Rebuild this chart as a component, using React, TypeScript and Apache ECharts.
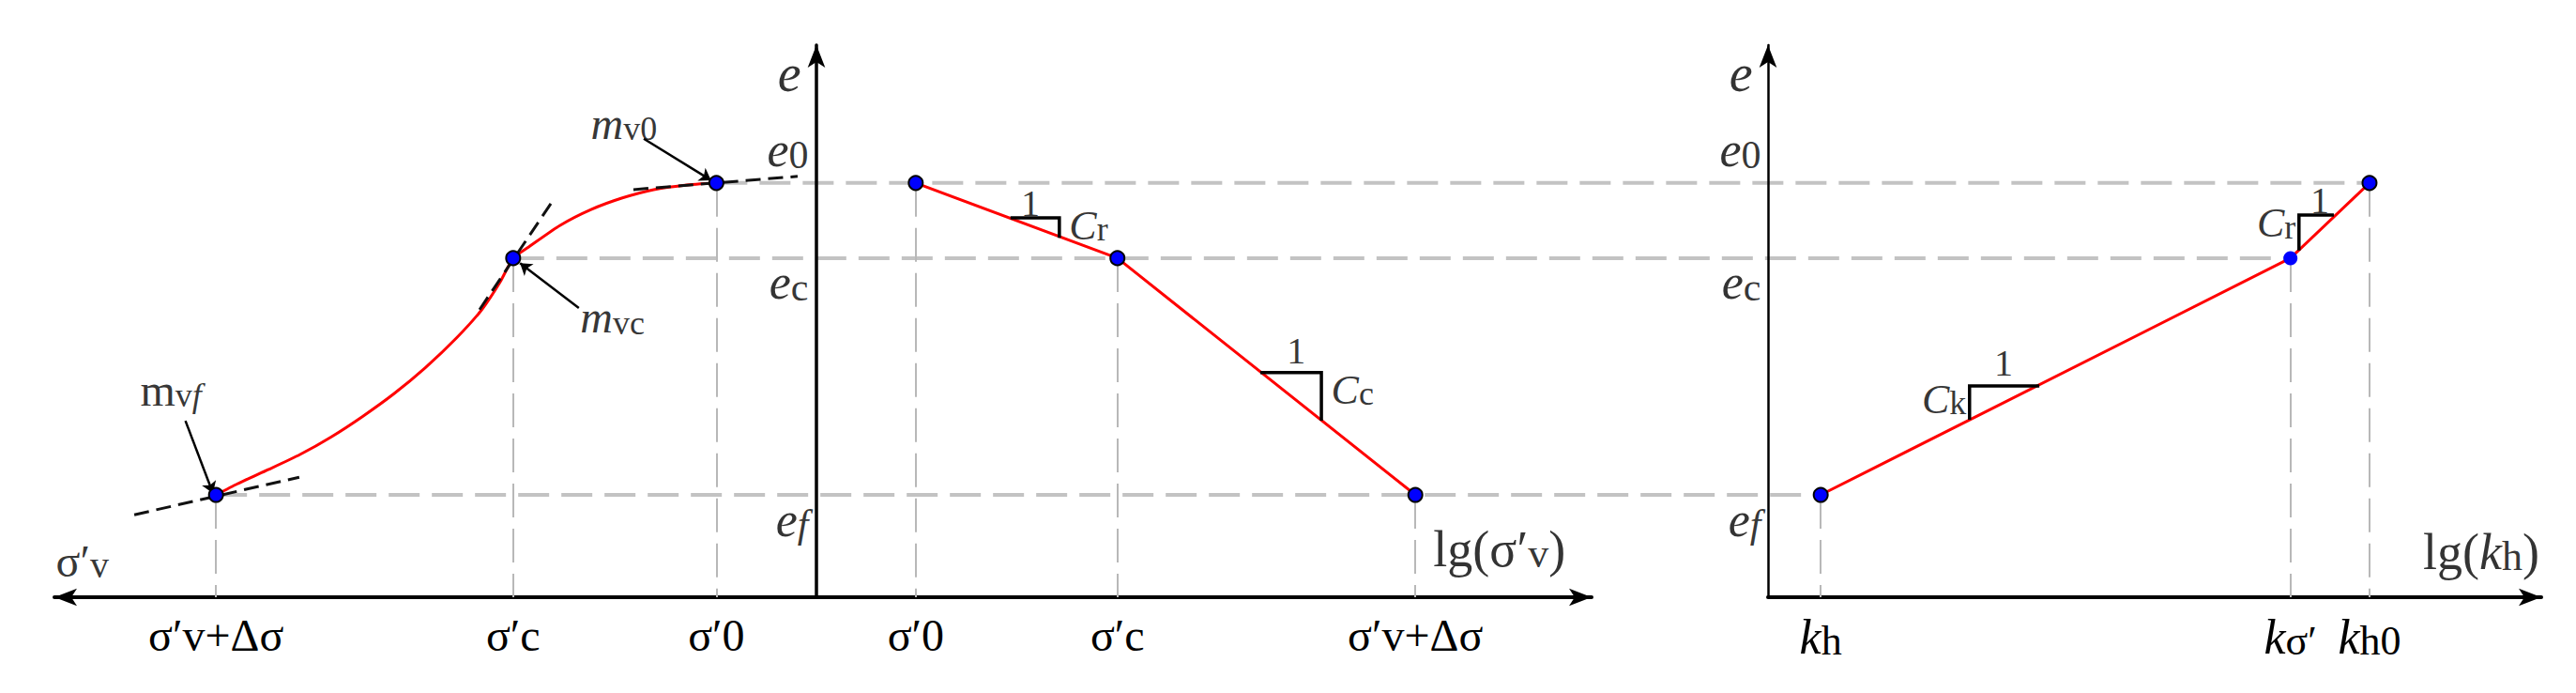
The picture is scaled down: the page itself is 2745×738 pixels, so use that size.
import React, { useEffect, useRef } from "react";
import * as echarts from "echarts";

const W = 2745;
const H = 738;

// void ratio levels: e0, ec, ef
const eLevels = [0.749, 0.613, 0.185];
const eLevelText = ["{I|e}{s|0}", "{I|e}{s|c}", "{I|e}{si|f}"];
// left panel σ'v (drawn leftwards from origin): σ'0, σ'c, σ'v+Δσ
const sigmaNat = [13.1, 39.7, 78.6];
// middle panel lg(σ'v): σ'0, σ'c, σ'v+Δσ
const sigmaLg = [13.0, 39.4, 78.4];
const sigmaTickText = ["{R|σ′0}", "{R|σ′c}", "{R|σ′v+Δσ}"];
// right panel lg(kh): kh0, kσ', kh
const khLg = [77.6, 67.4, 6.8];
const khTickText = ["{I|k}{s|h0}", "{I|k}{s|σ′}", "{I|k}{s|h}"];

// e – σ'v curve (left panel)
const curveSigma = [78.6, 75.8, 71.7, 67.6, 63.5, 59.4, 55.3, 51.2, 47.1, 43.8, 41.4, 39.7, 37.7, 33.6, 29.5, 25.4, 21.3, 17.2, 13.1];
const curveE = [0.185, 0.205, 0.231, 0.258, 0.29, 0.327, 0.368, 0.415, 0.469, 0.52, 0.57, 0.613, 0.633, 0.672, 0.701, 0.722, 0.737, 0.745, 0.749];

// tangent lines [σ1, e1, σ2, e2]
const tangentF = [89.3, 0.149, 67.7, 0.217];
const tangentC = [44.1, 0.52, 34.6, 0.715];
const tangent0 = [23.96, 0.737, 2.46, 0.761];

// pointer lines for mv labels [σ1, e1, σ2, e2]
const pointer0 = [22.6, 0.829, 13.8, 0.754];
const pointerC = [31.1, 0.523, 38.8, 0.604];
const pointerF = [82.6, 0.319, 79.0, 0.188];
const mvText = ["{I|m}{s|v0}", "{I|m}{s|vc}", "{R|m}{s|v}{si|f}"];
const mvAnchorSigma = [25.2, 26.7, 84.5];
const mvAnchorE = [0.857, 0.506, 0.375];

// slope triangles: x1, x2 (horizontal leg), eTop, eBottom
const triCrMid = [25.4, 31.8, 0.686, 0.65];
const triCcMid = [58.1, 66.1, 0.406, 0.319];
const triCkRight = [26.0, 35.0, 0.382, 0.321];
const triCrRight = [68.5, 73.0, 0.691, 0.627];

// "1" labels anchors
const oneMidX = [28.0, 62.8];
const oneMidE = [0.713, 0.445];
const oneRightX = [30.4, 71.2];
const oneRightE = [0.424, 0.718];

const serif = "'Liberation Serif', 'Times New Roman', serif";

function rich(main: number, sub: number) {
  const base = { fontFamily: serif, color: "#000", verticalAlign: "bottom" };
  return {
    I: { ...base, fontStyle: "italic", fontSize: main, lineHeight: main },
    R: { ...base, fontSize: main, lineHeight: main },
    s: { ...base, fontSize: sub, lineHeight: sub },
    si: { ...base, fontStyle: "italic", fontSize: sub, lineHeight: sub },
  };
}

function lookup(values: number[], texts: string[]) {
  return (v: number) => {
    for (let i = 0; i < values.length; i++) if (Math.abs(values[i] - v) < 1e-6) return texts[i];
    return "";
  };
}

function textItem(x: number, y: number, text: string, position: any, distance: number, offset: number[], r: any) {
  return {
    value: [x, y],
    label: { show: true, formatter: text, position, distance, offset, rich: r },
  };
}

function buildOption() {
  const black = "#000";
  const red = "#ff0000";
  const blue = "#0000ff";
  const vDash = { color: "#b8b8b8", width: 2, type: [36, 12], opacity: 1 };

  const leftTickVals = sigmaNat.map((s) => -s);
  const midTickVals = sigmaLg.slice();
  const gridATicks = [...leftTickVals, ...midTickVals];
  const gridATickText = [...sigmaTickText, ...sigmaTickText];

  const labelsA = [
    textItem(0, 0.947, "{I|e}", "left", 16, [0, 0], rich(56, 44)),
    ...eLevels.map((e, i) =>
      textItem(0, e, eLevelText[i], "left", 8, [0, i === 0 ? -35 : 26], rich(52, 42))
    ),
    textItem(-96.1, 0.066, "{R|σ′}{s|v}", "inside", 0, [0, 0], rich(48, 40)),
    textItem(89.4, 0.087, "{R|lg(σ′}{s|v}{R|)}", "inside", 0, [0, 0], rich(54, 44)),
    ...mvText.map((t, i) =>
      textItem(-mvAnchorSigma[i], mvAnchorE[i], t, "inside", 0, [0, 0], rich(48, 36))
    ),
    ...oneMidX.map((x, i) => textItem(x, oneMidE[i], "{R|1}", "inside", 0, [0, 0], rich(40, 34))),
    textItem(triCrMid[1], 0.672, "{I|C}{s|r}", "right", 10, [0, 0], rich(44, 36)),
    textItem(triCcMid[1], 0.375, "{I|C}{s|c}", "right", 10, [0, 0], rich(44, 36)),
  ];

  const labelsB = [
    textItem(0, 0.947, "{I|e}", "left", 16, [0, 0], rich(56, 44)),
    ...eLevels.map((e, i) =>
      textItem(0, e, eLevelText[i], "left", 7, [0, i === 0 ? -35 : 26], rich(52, 42))
    ),
    textItem(92.0, 0.0815, "{R|lg(}{I|k}{s|h}{R|)}", "inside", 0, [0, 0], rich(54, 44)),
    ...oneRightX.map((x, i) => textItem(x, oneRightE[i], "{R|1}", "inside", 0, [0, 0], rich(40, 34))),
    textItem(triCkRight[0], 0.358, "{I|C}{s|k}", "left", 3, [0, 0], rich(44, 36)),
    textItem(triCrRight[0], 0.676, "{I|C}{s|r}", "left", 3, [0, 0], rich(44, 36)),
  ];

  const seg = (a: number[], sign: number) => ({
    coords: [
      [sign * a[0], a[1]],
      [sign * a[2], a[3]],
    ],
  });
  const tri = (t: number[], rightCorner: boolean) => ({
    coords: rightCorner
      ? [
          [t[0], t[2]],
          [t[1], t[2]],
          [t[1], t[3]],
        ]
      : [
          [t[0], t[3]],
          [t[0], t[2]],
          [t[1], t[2]],
        ],
  });

  const axisCommon = {
    axisTick: { show: false },
    splitLine: { show: false },
  };

  return {
    animation: false,
    backgroundColor: "#ffffff",
    grid: [
      { left: 58, top: 48, width: 1638, height: 588 },
      { left: 1884, top: 48, width: 824, height: 588 },
    ],
    xAxis: [
      {
        type: "value",
        gridIndex: 0,
        min: -99.75,
        max: 101.47,
        ...axisCommon,
        axisLine: {
          show: true,
          onZero: true,
          symbol: ["arrow", "arrow"],
          symbolSize: [14, 24],
          lineStyle: { color: black, width: 4 },
        },
        axisLabel: {
          show: true,
          customValues: gridATicks,
          formatter: lookup(gridATicks, gridATickText),
          margin: 16,
          rich: rich(48, 40),
        },
      },
      {
        type: "value",
        gridIndex: 1,
        min: 0,
        max: 99.76,
        ...axisCommon,
        axisLine: {
          show: true,
          onZero: true,
          symbol: ["none", "arrow"],
          symbolSize: [14, 24],
          lineStyle: { color: black, width: 4 },
        },
        axisLabel: {
          show: true,
          customValues: khLg,
          formatter: lookup(khLg, khTickText),
          margin: 16,
          rich: rich(52, 44),
        },
      },
    ],
    yAxis: [
      {
        type: "value",
        gridIndex: 0,
        min: 0,
        max: 0.9983,
        ...axisCommon,
        axisLabel: { show: false },
        axisLine: {
          show: true,
          onZero: true,
          symbol: ["none", "arrow"],
          symbolSize: [14, 24],
          lineStyle: { color: black, width: 3.5 },
        },
      },
      {
        type: "value",
        gridIndex: 1,
        min: 0,
        max: 0.9983,
        ...axisCommon,
        axisLabel: { show: false },
        axisLine: {
          show: true,
          onZero: true,
          symbol: ["none", "arrow"],
          symbolSize: [14, 24],
          lineStyle: { color: black, width: 2.5 },
        },
      },
    ],
    series: [
      // vertical dashed guides
      {
        type: "lines",
        coordinateSystem: "cartesian2d",
        xAxisIndex: 0,
        yAxisIndex: 0,
        silent: true,
        z: 1,
        lineStyle: vDash,
        data: [
          ...sigmaNat.map((s, i) => ({ coords: [[-s, eLevels[i]], [-s, 0]] })),
          ...sigmaLg.map((s, i) => ({ coords: [[s, eLevels[i]], [s, 0]] })),
        ],
      },
      {
        type: "lines",
        coordinateSystem: "cartesian2d",
        xAxisIndex: 1,
        yAxisIndex: 1,
        silent: true,
        z: 1,
        lineStyle: vDash,
        data: khLg.map((k, i) => ({ coords: [[k, eLevels[i]], [k, 0]] })),
      },
      // left curve
      {
        type: "line",
        xAxisIndex: 0,
        yAxisIndex: 0,
        silent: true,
        z: 3,
        smooth: 0.2,
        symbol: "none",
        lineStyle: { color: red, width: 3 },
        data: curveSigma.map((s, i) => [-s, curveE[i]]),
      },
      // middle line
      {
        type: "line",
        xAxisIndex: 0,
        yAxisIndex: 0,
        silent: true,
        z: 3,
        symbol: "none",
        lineStyle: { color: red, width: 3 },
        data: sigmaLg.map((s, i) => [s, eLevels[i]]),
      },
      // right line
      {
        type: "line",
        xAxisIndex: 1,
        yAxisIndex: 1,
        silent: true,
        z: 3,
        symbol: "none",
        lineStyle: { color: red, width: 3 },
        data: khLg.map((k, i) => [k, eLevels[i]]),
      },
      // tangents
      {
        type: "lines",
        coordinateSystem: "cartesian2d",
        xAxisIndex: 0,
        yAxisIndex: 0,
        silent: true,
        z: 4,
        lineStyle: { color: "#111", width: 3, type: [16, 8], opacity: 1 },
        data: [seg(tangentF, -1), seg(tangentC, -1), seg(tangent0, -1)],
      },
      // pointers
      {
        type: "lines",
        coordinateSystem: "cartesian2d",
        xAxisIndex: 0,
        yAxisIndex: 0,
        silent: true,
        z: 4,
        symbol: ["none", "arrow"],
        symbolSize: 12,
        lineStyle: { color: black, width: 2.5, opacity: 1 },
        data: [seg(pointer0, -1), seg(pointerC, -1), seg(pointerF, -1)],
      },
      // slope triangles middle
      {
        type: "lines",
        coordinateSystem: "cartesian2d",
        xAxisIndex: 0,
        yAxisIndex: 0,
        polyline: true,
        silent: true,
        z: 4,
        lineStyle: { color: black, width: 3.5, opacity: 1 },
        data: [tri(triCrMid, true), tri(triCcMid, true)],
      },
      // slope triangles right
      {
        type: "lines",
        coordinateSystem: "cartesian2d",
        xAxisIndex: 1,
        yAxisIndex: 1,
        polyline: true,
        silent: true,
        z: 4,
        lineStyle: { color: black, width: 3.5, opacity: 1 },
        data: [tri(triCkRight, false), tri(triCrRight, false)],
      },
      // points
      {
        type: "scatter",
        xAxisIndex: 0,
        yAxisIndex: 0,
        silent: true,
        z: 6,
        symbolSize: 15,
        itemStyle: { color: blue, borderColor: black, borderWidth: 2, opacity: 1 },
        data: [
          ...sigmaNat.map((s, i) => [-s, eLevels[i]]),
          ...sigmaLg.map((s, i) => [s, eLevels[i]]),
        ],
      },
      {
        type: "scatter",
        xAxisIndex: 1,
        yAxisIndex: 1,
        silent: true,
        z: 6,
        symbolSize: 15,
        itemStyle: { color: blue, borderColor: black, borderWidth: 2, opacity: 1 },
        data: khLg.map((k, i) =>
          i === 1
            ? { value: [k, eLevels[i]], itemStyle: { borderWidth: 0 } }
            : [k, eLevels[i]]
        ),
      },
      // text labels
      {
        type: "scatter",
        xAxisIndex: 0,
        yAxisIndex: 0,
        silent: true,
        z: 7,
        symbolSize: 1,
        itemStyle: { color: "rgba(0,0,0,0)" },
        data: labelsA,
      },
      {
        type: "scatter",
        xAxisIndex: 1,
        yAxisIndex: 1,
        silent: true,
        z: 7,
        symbolSize: 1,
        itemStyle: { color: "rgba(0,0,0,0)" },
        data: labelsB,
      },
    ],
  };
}

export default function App() {
  const ref = useRef<HTMLDivElement>(null);
  useEffect(() => {
    const chart = echarts.init(ref.current!, null, { renderer: "svg", width: W, height: H });
    chart.setOption(buildOption() as any);
    const graphics = eLevels.map((e, i) => {
      const p1 = chart.convertToPixel({ gridIndex: 0 } as any, [-sigmaNat[i], e]) as number[];
      const p2 = chart.convertToPixel({ gridIndex: 1 } as any, [khLg[i], e]) as number[];
      return {
        type: "line",
        z: 0,
        silent: true,
        shape: { x1: p1[0], y1: p1[1], x2: p2[0], y2: p2[1] },
        style: { stroke: "#c3c3c3", lineWidth: 4, lineDash: [33, 13] },
      };
    });
    chart.setOption({ graphic: graphics } as any);
    return () => chart.dispose();
  }, []);
  return (
    <div
      ref={ref}
      style={{ position: "fixed", left: 0, top: 0, width: W, height: H, background: "#fff" }}
    />
  );
}
